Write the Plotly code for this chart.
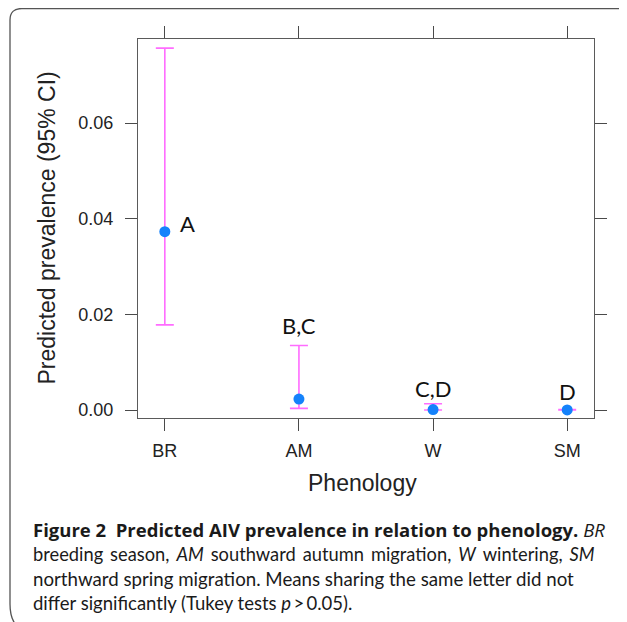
import plotly.graph_objects as go

# ---- data ----
categories = ["BR", "AM", "W", "SM"]
mean_prev = [0.0373, 0.0023, 0.0001, 0.00002]
lower_ci = [0.0178, 0.00035, 0.00001, 0.0]
upper_ci = [0.0757, 0.0135, 0.0013, 0.0001]
tukey_letters = ["A", "B,C", "C,D", "D"]
y_ticks = [0.00, 0.02, 0.04, 0.06]
y_tick_labels = ["0.00", "0.02", "0.04", "0.06"]

# page is shifted by the default 8px body margin
OFF = 8
W, H = 627 - OFF, 622 - OFF
L, T = 138 - OFF, 39 - OFF
R = W - (594 - OFF)
B = H - (418 - OFF)
PW, PH = W - L - R, H - T - B


def px(x):  # page pixel -> paper
    return (x - OFF - L) / PW


def py(y):
    return (H - B - (y - OFF)) / PH


err_plus = [u - m for u, m in zip(upper_ci, mean_prev)]
err_minus = [m - l for m, l in zip(mean_prev, lower_ci)]

fig = go.Figure()
fig.add_trace(go.Scatter(
    x=list(range(len(categories))), y=mean_prev, mode="markers",
    marker=dict(color="#1582fb", size=11),
    error_y=dict(type="data", symmetric=False, array=err_plus, arrayminus=err_minus,
                 color="#ff6cff", thickness=1.6, width=9),
    showlegend=False, hoverinfo="skip",
))

axis_common = dict(
    showline=True, linecolor="#5a5a5a", linewidth=1.3, mirror="allticks",
    ticks="outside", ticklen=12, tickwidth=1.2, tickcolor="#4a4a4a",
    showgrid=False, zeroline=False,
    tickfont=dict(family="Liberation Sans, Arial, sans-serif", size=18, color="#222"),
)

fig.update_xaxes(range=[-0.2, 3.2], tickmode="array", tickvals=list(range(len(categories))),
                 ticktext=categories, ticklabelstandoff=4, **axis_common)
fig.update_yaxes(range=[-0.00167, 0.0776], tickmode="array", tickvals=y_ticks,
                 ticktext=y_tick_labels, ticklabelstandoff=8, **axis_common)

annotations = []
# Tukey letters
letter_font = dict(family="Lato, Open Sans, sans-serif", size=22, color="#111")
annotations.append(dict(x=0, y=mean_prev[0], xref="x", yref="y", text=tukey_letters[0],
                        showarrow=False, xshift=23, yshift=8, font=letter_font))
for i, shift in zip([1, 2, 3], [18, 13, 16]):
    annotations.append(dict(x=i, y=upper_ci[i], xref="x", yref="y", text=tukey_letters[i],
                            showarrow=False, yshift=shift + 2, font=letter_font))

# axis titles
title_font = dict(family="Liberation Sans, Arial, sans-serif", size=23, color="#222")
annotations.append(dict(x=px(46), y=0.5, xref="paper", yref="paper", textangle=-90,
                        text="Predicted prevalence (95% CI)", showarrow=False,
                        xanchor="center", yanchor="middle", font=title_font))
annotations.append(dict(x=px(362), y=py(483), xref="paper", yref="paper",
                        text="Phenology", showarrow=False,
                        xanchor="center", yanchor="middle", font=title_font))

# caption
ts = "\u2009"
cap_lines = [
    "<b>Figure 2\u00a0\u00a0Predicted AIV prevalence in relation to phenology.</b> <i>BR</i>",
    ("breeding season, <i>AM</i> southward autumn migration, <i>W</i> wintering, <i>SM</i>")
    .replace(" ", " " + ts),
    "northward spring migration. Means sharing the same letter did not",
    "differ significantly (Tukey tests <i>p</i>\u2009&gt;\u20090.05).",
]
cap_fonts = [
    dict(family="Open Sans, sans-serif", size=18.5, color="#1a1a1a"),
    dict(family="Lato, Open Sans, sans-serif", size=18.3, color="#1a1a1a"),
    dict(family="Lato, Open Sans, sans-serif", size=18.7, color="#1a1a1a"),
    dict(family="Lato, Open Sans, sans-serif", size=18.5, color="#1a1a1a"),
]
cap_y = [529, 554, 579, 603]
for line, yy, f in zip(cap_lines, cap_y, cap_fonts):
    annotations.append(dict(x=px(31), y=py(yy), xref="paper", yref="paper", text=line,
                            showarrow=False, xanchor="left", yanchor="middle", font=f))

# frame
frame_path = (f"M {px(650)},{py(8.5)} L {px(22)},{py(8.5)} Q {px(10)},{py(8.5)} {px(10)},{py(20)} "
              f"L {px(10)},{py(604)} Q {px(10)},{py(632)} {px(34)},{py(632)} L {px(650)},{py(632)}")

fig.update_layout(
    width=W, height=H, margin=dict(l=L, r=R, t=T, b=B),
    paper_bgcolor="white", plot_bgcolor="white",
    annotations=annotations,
    shapes=[dict(type="path", path=frame_path, xref="paper", yref="paper",
                 line=dict(color="#555", width=1.3))],
)

fig.write_html("out.html")
